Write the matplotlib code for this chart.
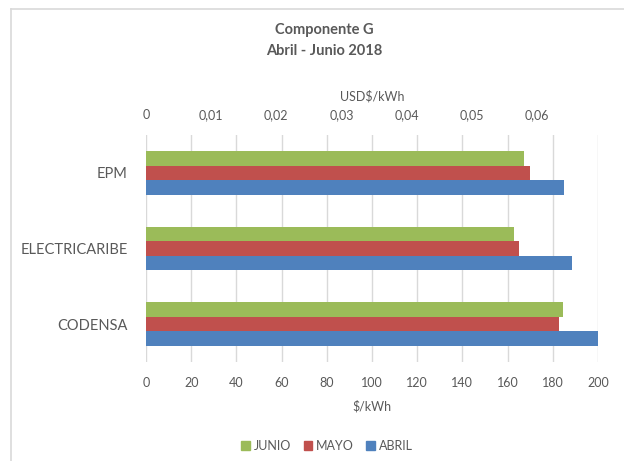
import matplotlib
matplotlib.use("Agg")
import matplotlib.pyplot as plt
from matplotlib.lines import Line2D
from matplotlib.patches import Patch
import numpy as np

categories = ["CODENSA", "ELECTRICARIBE", "EPM"]
abril = [200.0, 188.4, 185.0]
mayo = [182.9, 165.2, 169.9]
junio = [184.5, 162.7, 167.4]
cop_per_usd = 2883.0
bottom_ticks = [0, 20, 40, 60, 80, 100, 120, 140, 160, 180, 200]
top_ticks = [0, 0.01, 0.02, 0.03, 0.04, 0.05, 0.06]
top_labels = ["0", "0,01", "0,02", "0,03", "0,04", "0,05", "0,06"]

FONT = ["Lato", "DejaVu Sans"]
plt.rcParams["font.family"] = FONT
TXT = "#595959"
C_ABRIL = "#4F81BD"
C_MAYO = "#C0504D"
C_JUNIO = "#9BBB59"
GRID = "#D9D9D9"

W, H = 624, 461
fig = plt.figure(figsize=(W / 100, H / 100), dpi=100)
ax = fig.add_axes([146 / W, 1 - 362 / H, (598 - 146) / W, (362 - 135) / H])

y = np.arange(len(categories))
bh = 0.193
ax.barh(y - bh, abril, height=bh, color=C_ABRIL, label="ABRIL", zorder=3)
ax.barh(y, mayo, height=bh, color=C_MAYO, label="MAYO", zorder=3)
ax.barh(y + bh, junio, height=bh, color=C_JUNIO, label="JUNIO", zorder=3)

ax.set_xlim(0, 200)
ax.set_ylim(-0.5, 2.5)
ax.set_xticks(bottom_ticks)
ax.set_xticklabels([str(t) for t in bottom_ticks])
ax.set_yticks(y)
ax.set_yticklabels(categories)
ax.grid(axis="x", color=GRID, linewidth=1, zorder=0)
for s in ax.spines.values():
    s.set_visible(False)
ax.tick_params(axis="x", length=0, pad=11, labelsize=9, labelcolor=TXT)
ax.tick_params(axis="y", length=0, pad=13, labelsize=10.5, labelcolor=TXT)
ax.set_xlabel("$/kWh", color=TXT, fontsize=9, labelpad=8)

sec = ax.secondary_xaxis("top", functions=(lambda v: v / cop_per_usd, lambda v: v * cop_per_usd))
sec.set_xticks(top_ticks)
sec.set_xticklabels(top_labels)
sec.tick_params(axis="x", length=0, pad=10, labelsize=9, labelcolor=TXT)
for s in sec.spines.values():
    s.set_visible(False)
sec.set_xlabel("USD$/kWh", color=TXT, fontsize=9, labelpad=6)

fig.text(324 / W, 1 - 30 / H, "Componente G", ha="center", va="center",
         fontsize=10.5, fontweight="bold", color=TXT)
fig.text(324 / W, 1 - 51 / H, "Abril - Junio 2018", ha="center", va="center",
         fontsize=10.5, fontweight="bold", color=TXT)

handles = [Patch(color=C_JUNIO, label="JUNIO"), Patch(color=C_MAYO, label="MAYO"),
           Patch(color=C_ABRIL, label="ABRIL")]
fig.legend(handles=handles, loc="center", bbox_to_anchor=(327 / W, 1 - 446 / H),
           ncol=3, frameon=False, fontsize=9, labelcolor=TXT, handlelength=0.7,
           handleheight=0.7, handletextpad=0.3, columnspacing=1.0)

fig.add_artist(Line2D([10.5 / W, 10.5 / W], [0, 1 - 9.5 / H], color=GRID, linewidth=1.2))
fig.add_artist(Line2D([10.5 / W, 1], [1 - 9.5 / H, 1 - 9.5 / H], color=GRID, linewidth=1.2))

fig.savefig("out.png", dpi=100, facecolor="white")
